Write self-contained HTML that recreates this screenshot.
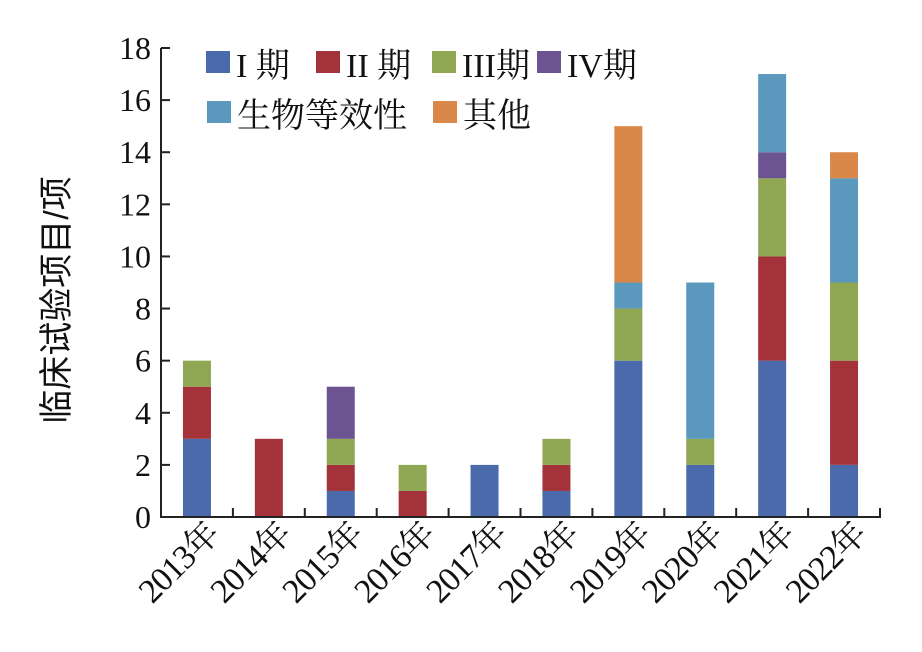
<!DOCTYPE html>
<html><head><meta charset="utf-8"><style>body{margin:0;background:#fff}svg{display:block}</style></head>
<body>
<svg id="chart" width="922" height="652" xmlns="http://www.w3.org/2000/svg"></svg>
<script>
const categories=["2013年","2014年","2015年","2016年","2017年","2018年","2019年","2020年","2021年","2022年"];
const seriesNames=["I 期","II 期","III期","IV期","生物等效性","其他"];
const phase1=[3,0,1,0,2,1,6,2,6,2];
const phase2=[2,3,1,1,0,1,0,0,4,4];
const phase3=[1,0,1,1,0,1,2,1,3,3];
const phase4=[0,0,2,0,0,0,0,0,1,0];
const bioeq=[0,0,0,0,0,0,1,6,3,4];
const other=[0,0,0,0,0,0,6,0,0,1];
const yTicks=[0,2,4,6,8,10,12,14,16,18];
const colors=["#4a6aab","#a3323a","#8fa752","#6c5493","#5a98bd","#d9884a"];
const series=[phase1,phase2,phase3,phase4,bioeq,other];
const NS="http://www.w3.org/2000/svg";
const svg=document.getElementById("chart");
const x0=161,x1=880,yBase=517,yTop=48,yMax=18;
const band=(x1-x0)/categories.length;
const y=v=>yBase-(yBase-yTop)*v/yMax;
const xc=i=>x0+band*(i+0.5);
function mk(t,a){const e=document.createElementNS(NS,t);for(const k in a)e.setAttribute(k,a[k]);svg.appendChild(e);return e;}
const bw=28;
categories.forEach((c,i)=>{let acc=0;series.forEach((s,j)=>{const v=s[i];if(v>0){const r=mk("rect",{x:xc(i)-bw/2,y:y(acc+v),width:bw,height:y(acc)-y(acc+v),fill:colors[j]});

}acc+=v;});
const t=mk("text",{x:xc(i)+24,y:536,"text-anchor":"end",transform:`rotate(-45 ${xc(i)+24} 536)`,"font-family":"Liberation Serif, Noto Serif CJK SC, serif","font-size":34,"letter-spacing":"-1",fill:"#111"});t.textContent=c;


if(i>0){const tk=mk("line",{x1:x0+band*i,x2:x0+band*i,y1:yBase,y2:yBase-9,stroke:"#222","stroke-width":2});}
});
yTicks.forEach(v=>{const l=mk("line",{x1:x0,x2:x0+9,y1:y(v),y2:y(v),stroke:"#222","stroke-width":2});


const t=mk("text",{x:151,y:y(v)+11,"text-anchor":"end","font-family":"Liberation Serif, serif","font-size":32,fill:"#111"});t.textContent=v;

});
const ax=mk("path",{d:`M${x0} ${yTop}V${yBase}H${x1}V${yBase-9}`,fill:"none",stroke:"#222","stroke-width":2});


const yt=mk("text",{x:68,y:300,"text-anchor":"middle",transform:"rotate(-90 68 300)","font-family":"Liberation Sans, Noto Sans CJK SC, sans-serif","font-size":34,fill:"#111"});yt.textContent="临床试验项目/项";


const leg=[[206,65,0],[316,65,1],[432,65,2],[537,65,3],[207,115,4],[433,115,5]];
leg.forEach(([lx,ly,j])=>{const r=mk("rect",{x:lx,y:ly-14,width:24,height:22,fill:colors[j]});


const t=mk("text",{x:lx+30,y:ly+12,"font-family":"Liberation Serif, Noto Serif CJK SC, serif","font-size":34,fill:"#111"});t.textContent=seriesNames[j];

});
</script>
</body></html>
